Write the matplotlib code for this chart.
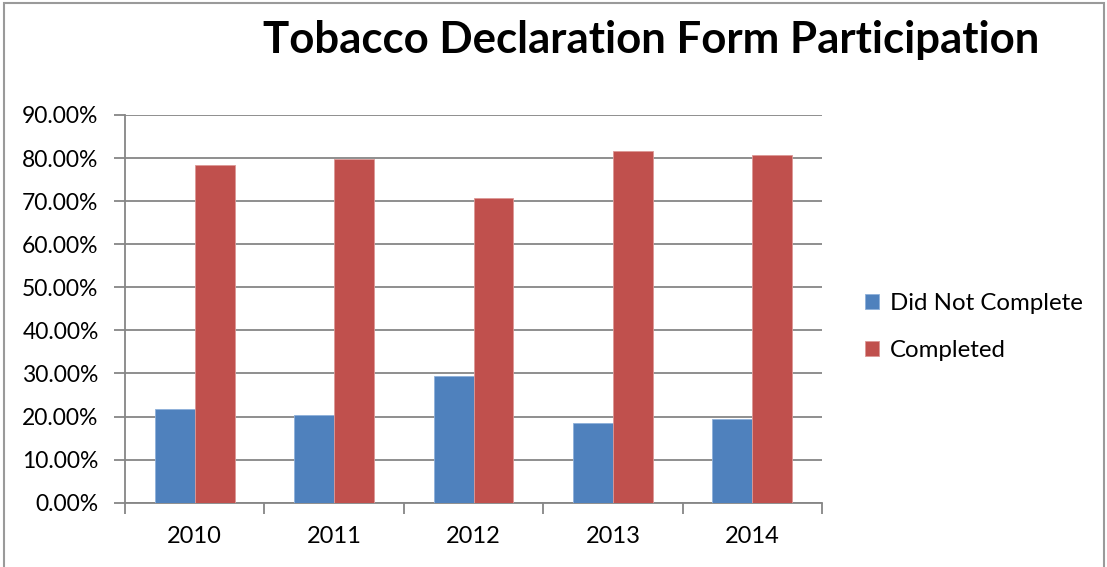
import matplotlib.pyplot as plt
import numpy as np
from matplotlib.patches import Rectangle
from matplotlib.ticker import FuncFormatter

years = ['2010', '2011', '2012', '2013', '2014']
did_not_complete = [21.8, 20.3, 29.4, 18.5, 19.4]
completed = [78.3, 79.8, 70.8, 81.6, 80.7]

blue = '#4F81BD'
red = '#C0504D'
grid_gray = '#868686'

plt.rcParams['font.family'] = ['Lato', 'DejaVu Sans']

W, H = 1107, 567
fig = plt.figure(figsize=(W / 100, H / 100), dpi=100)

# outer chart border
fig.patches.append(Rectangle((4 / W, -0.01), (1104 - 4) / W, 1.01 - 3 / H,
                             transform=fig.transFigure, fill=False,
                             edgecolor='#9a9a9a', linewidth=1.5))

ax = fig.add_axes([125 / W, 1 - 502.7 / H, (822 - 125) / W, (502.7 - 115) / H])

x = np.arange(len(years))
w = 1 / 3.5
ax.bar(x - w / 2, did_not_complete, width=w, color=blue, edgecolor='#8eb0da',
       linewidth=0.6, label='Did Not Complete', zorder=3)
ax.bar(x + w / 2, completed, width=w, color=red, edgecolor='#dc9896',
       linewidth=0.6, label='Completed', zorder=3)

ax.set_xlim(-0.5, len(years) - 0.5)
ax.set_ylim(0, 90)
ax.set_yticks(np.arange(0, 91, 10))
ax.yaxis.set_major_formatter(FuncFormatter(lambda v, p: f'{v:.2f}%'))
ax.yaxis.grid(True, color=grid_gray, linewidth=1.3, zorder=0)
ax.set_axisbelow(True)

ax.set_xticks(x)
ax.set_xticklabels(years)
ax.set_xticks(np.arange(-0.5, len(years)), minor=True)
ax.tick_params(axis='x', which='major', length=0, labelsize=17, pad=17)
ax.tick_params(axis='x', which='minor', length=8, width=1.3, color=grid_gray)
ax.tick_params(axis='y', length=8, width=1.3, color=grid_gray, labelsize=16.5, pad=11)

for s in ['top', 'right']:
    ax.spines[s].set_visible(False)
for s in ['left', 'bottom']:
    ax.spines[s].set_color(grid_gray)
    ax.spines[s].set_linewidth(1.3)

fig.text(651 / W, 1 - 40 / H, 'Tobacco Declaration Form Participation',
         ha='center', va='center', fontsize=31.5, fontweight='bold')

ax.legend(loc='center left', bbox_to_anchor=(843 / W, 1 - 327 / H),
          bbox_transform=fig.transFigure, frameon=False, fontsize=17.3,
          handlelength=0.6, handleheight=0.6, handletextpad=0.45,
          labelspacing=1.1)

fig.savefig('out.png', dpi=100)
